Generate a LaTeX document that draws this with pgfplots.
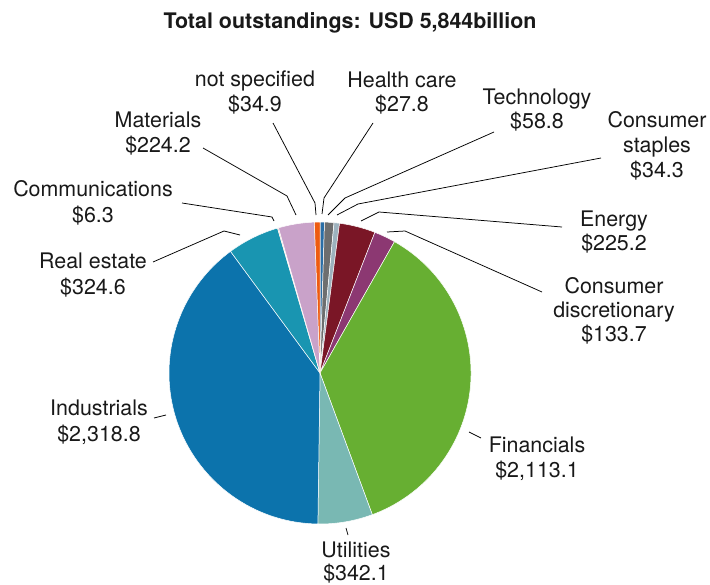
\documentclass[border=0pt]{standalone}
\usepackage{pgfplots}
\usepackage{pgfplotstable}
\pgfplotsset{compat=1.18}
\usepackage{fontspec}
\setmainfont{TeX Gyre Heros}

% slices clockwise from 12 o'clock
\pgfplotstableread[col sep=comma]{
sector,value
Health care,27.8
Technology,58.8
Consumer staples,34.3
Energy,225.2
Consumer discretionary,133.7
Financials,2113.1
Utilities,342.1
Industrials,2318.8
Real estate,324.6
Communications,6.3
Materials,224.2
not specified,34.9
}\pietable

\definecolor{pie0}{HTML}{2A6EA6}
\definecolor{pie1}{HTML}{6D6E6F}
\definecolor{pie2}{HTML}{9DB2BE}
\definecolor{pie3}{HTML}{7A1626}
\definecolor{pie4}{HTML}{8C3872}
\definecolor{pie5}{HTML}{67AF32}
\definecolor{pie6}{HTML}{79B8B3}
\definecolor{pie7}{HTML}{0C73AC}
\definecolor{pie8}{HTML}{1995B1}
\definecolor{pie9}{HTML}{C4A070}
\definecolor{pie10}{HTML}{C9A2C9}
\definecolor{pie11}{HTML}{EE5B11}

\def\total{0}
\pgfplotsforeachungrouped \i in {0,...,11}{%
  \pgfplotstablegetelem{\i}{value}\of\pietable
  \pgfmathsetmacro{\total}{\total+\pgfplotsretval}%
}
\def\cum{0}
\pgfplotsforeachungrouped \i in {0,...,11}{%
  \pgfplotstablegetelem{\i}{value}\of\pietable
  \pgfmathsetmacro{\sa}{90-360*(\cum/\total)}%
  \pgfmathsetmacro{\cum}{\cum+\pgfplotsretval}%
  \pgfmathsetmacro{\ea}{90-360*(\cum/\total)}%
  \expandafter\xdef\csname pieS\i\endcsname{\sa}%
  \expandafter\xdef\csname pieE\i\endcsname{\ea}%
}

\begin{document}
\begin{tikzpicture}[every node/.style={font=\fontsize{21.5}{24}\selectfont, inner sep=0pt, text=black!90}]
\begin{axis}[x=1bp, y=1bp, y dir=reverse, xmin=0, xmax=710, ymin=0, ymax=585,
  hide axis, clip=false]
\path (axis cs:0,0) rectangle (axis cs:710,585);
\pgfplotsinvokeforeach{0,...,11}{%
  \fill[pie#1, draw=white, line width=0.5pt]
    (axis cs:320,373) --
    (axis cs:{320+151*cos(\csname pieS#1\endcsname)},{373-151*sin(\csname pieS#1\endcsname)})
    arc[start angle=\csname pieS#1\endcsname, end angle=\csname pieE#1\endcsname, radius=151bp]
    -- cycle;
}
% leader lines
\begin{scope}[line width=0.75pt, black]
\draw (axis cs:273,123) -- (axis cs:315,203) -- (axis cs:316,215);
\draw (axis cs:203,148) -- (axis cs:287,196) -- (axis cs:296,215);
\draw (axis cs:182,203) -- (axis cs:272,217) -- (axis cs:274,221);
\draw (axis cs:153,262) -- (axis cs:224,231) -- (axis cs:240,235);
\draw (axis cs:154,418) -- (axis cs:166,415);
\draw (axis cs:346,528) -- (axis cs:348,535);
\draw (axis cs:469,432) -- (axis cs:481,438);
\draw (axis cs:542,292) -- (axis cs:405,231) -- (axis cs:387,232);
\draw (axis cs:562,227) -- (axis cs:379,212) -- (axis cs:361,221);
\draw (axis cs:601,158) -- (axis cs:358,204) -- (axis cs:337,215);
\draw (axis cs:494,132) -- (axis cs:345,198) -- (axis cs:328,215);
\draw (axis cs:373,123) -- (axis cs:324,198) -- (axis cs:322,214);
\end{scope}
% title
\node[anchor=base, font=\fontsize{21.5}{24}\selectfont\bfseries] at (axis cs:350,29) {Total outstandings: USD 5,844billion};
% labels
\node[anchor=base] at (axis cs:255,87) {not specified};
\node[anchor=base] at (axis cs:255,112) {\$34.9};
\node[anchor=base] at (axis cs:158,128) {Materials};
\node[anchor=base] at (axis cs:158,153) {\$224.2};
\node[anchor=base] at (axis cs:93,197) {Communications};
\node[anchor=base] at (axis cs:93,222) {\$6.3};
\node[anchor=base] at (axis cs:93,268) {Real estate};
\node[anchor=base] at (axis cs:93,294) {\$324.6};
\node[anchor=base] at (axis cs:99,415) {Industrials};
\node[anchor=base] at (axis cs:99,441) {\$2,318.8};
\node[anchor=base] at (axis cs:356,557) {Utilities};
\node[anchor=base] at (axis cs:356,580) {\$342.1};
\node[anchor=base] at (axis cs:537,452) {Financials};
\node[anchor=base] at (axis cs:537,477) {\$2,113.1};
\node[anchor=base] at (axis cs:614,293) {Consumer};
\node[anchor=base] at (axis cs:614,317) {discretionary};
\node[anchor=base] at (axis cs:614,341) {\$133.7};
\node[anchor=base] at (axis cs:614,226) {Energy};
\node[anchor=base] at (axis cs:614,250) {\$225.2};
\node[anchor=base] at (axis cs:657,128) {Consumer};
\node[anchor=base] at (axis cs:657,153) {staples};
\node[anchor=base] at (axis cs:657,178) {\$34.3};
\node[anchor=base] at (axis cs:402,88) {Health care};
\node[anchor=base] at (axis cs:402,112) {\$27.8};
\node[anchor=base] at (axis cs:537,105) {Technology};
\node[anchor=base] at (axis cs:537,129) {\$58.8};
\end{axis}
\end{tikzpicture}
\end{document}
